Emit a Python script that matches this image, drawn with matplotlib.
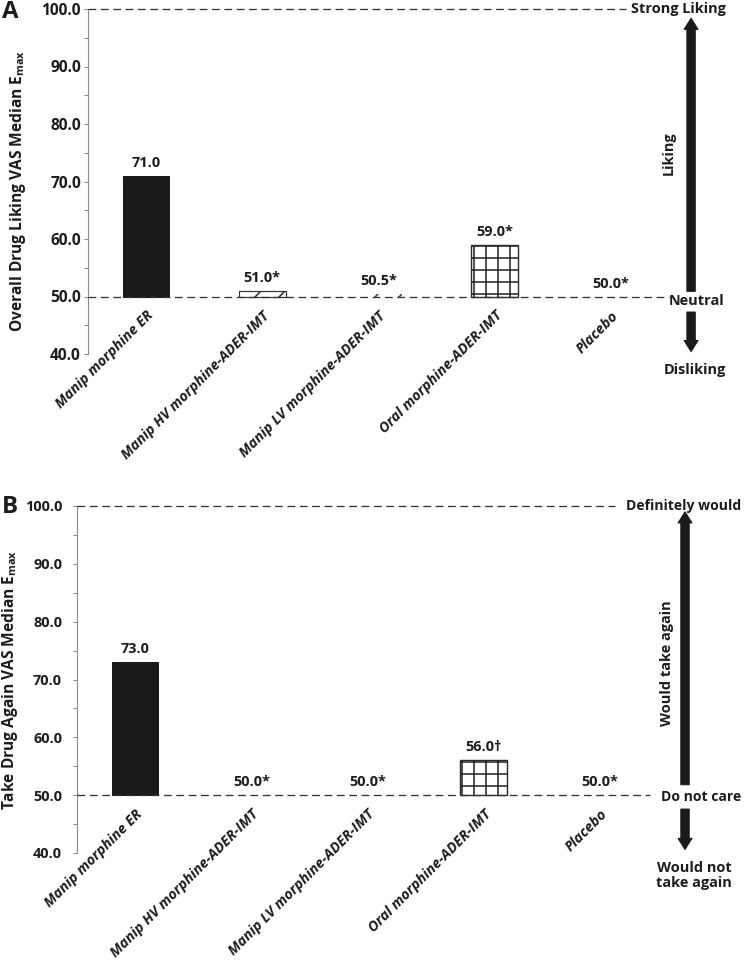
import matplotlib
matplotlib.use("Agg")
import matplotlib.pyplot as plt
from matplotlib.transforms import blended_transform_factory as btf

# ---------------- data ----------------
categories = ["Manip morphine ER", "Manip HV morphine-ADER-IMT",
              "Manip LV morphine-ADER-IMT", "Oral morphine-ADER-IMT", "Placebo"]
liking_values = [71.0, 51.0, 50.5, 59.0, 50.0]
liking_labels = ["71.0", "51.0*", "50.5*", "59.0*", "50.0*"]
take_values = [73.0, 50.0, 50.0, 56.0, 50.0]
take_labels = ["73.0", "50.0*", "50.0*", "56.0\u2020", "50.0*"]
baseline = 50.0
yticks_major = [40, 50, 60, 70, 80, 90, 100]
yticks_minor = [45, 55, 65, 75, 85, 95]

plt.rcParams["hatch.linewidth"] = 1.6
plt.rcParams["mathtext.fontset"] = "custom"

TXT = ["Open Sans", "DejaVu Sans"]
DARK = "#1c1c1c"

W, H = 744, 963
fig = plt.figure(figsize=(W / 72, H / 72), dpi=72)

# per-category styles
styles = [
    dict(facecolor="#1a1a1a", edgecolor="#1a1a1a", hatch=None, lw=1.0),
    dict(facecolor="white", edgecolor="#333333", hatch="/", lw=1.2),
    dict(facecolor="white", edgecolor="#444444", hatch="/", lw=0.0),
    dict(facecolor="white", edgecolor="#2a2a2a", hatch="+", lw=1.4),
    dict(facecolor="white", edgecolor="#2a2a2a", hatch=None, lw=0.0),
]


def px_axes(left, top, right, bottom):
    return fig.add_axes([left / W, 1 - bottom / H, (right - left) / W, (bottom - top) / H])


def panel(ax, values, labels, ylabel, ylabel_xy, top_line_frac, mid_line_frac, ytick_pad, ytick_size):
    x = list(range(len(categories)))
    heights = [v - baseline for v in values]
    for xi, h, st in zip(x, heights, styles):
        lw = st["lw"] if h != 0 else 0.0
        ax.bar(xi, h, bottom=baseline, width=0.40, facecolor=st["facecolor"],
               edgecolor=st["edgecolor"], hatch=st["hatch"], linewidth=lw, zorder=3)
    for xi, v, lab in zip(x, values, labels):
        ax.annotate(lab, (xi, v), xytext=(0, 6), textcoords="offset points",
                    ha="center", va="bottom", fontsize=14.5, fontweight="bold",
                    family=TXT, color=DARK, zorder=5)
    ax.set_xlim(-0.5, 4.5)
    ax.set_ylim(40, 100)
    ax.axhline(100, xmin=0, xmax=top_line_frac, color="#333333", lw=1.3,
               linestyle=(0, (6, 3.5)), clip_on=False, zorder=4)
    ax.axhline(baseline, xmin=0, xmax=mid_line_frac, color="#333333", lw=1.3,
               linestyle=(0, (6, 3.5)), clip_on=False, zorder=4)
    for s in ["top", "right"]:
        ax.spines[s].set_visible(False)
    ax.spines["bottom"].set_position(("data", baseline))
    ax.spines["bottom"].set_color("none")
    ax.spines["left"].set_color("#8a8a8a")
    ax.spines["left"].set_linewidth(1.1)
    ax.set_yticks(yticks_major)
    ax.set_yticks(yticks_minor, minor=True)
    ax.set_yticklabels([f"{t:.1f}" for t in yticks_major])
    ax.tick_params(axis="y", which="both", direction="out", length=4, color="#8a8a8a",
                   width=1, pad=ytick_pad, labelsize=ytick_size, labelcolor=DARK)
    for t in ax.get_yticklabels():
        t.set_fontweight("bold")
        t.set_family(TXT)
    ax.set_xticks(x)
    ax.set_xticklabels(categories, rotation=45, ha="right", va="top",
                       rotation_mode="anchor")
    ax.tick_params(axis="x", length=0, pad=12, labelsize=14.2, labelcolor=DARK)
    for t in ax.get_xticklabels():
        t.set_fontweight("bold")
        t.set_fontstyle("italic")
        t.set_family(TXT)
    fig.text(ylabel_xy[0] / W, 1 - ylabel_xy[1] / H, ylabel, rotation=90,
             ha="center", va="center", fontsize=15.5, fontweight="bold",
             family=TXT, color=DARK)


def arrow(ax, x, y0, y1):
    tr = btf(ax.transAxes, ax.transData)
    ax.annotate("", xy=(x, y1), xytext=(x, y0), xycoords=tr, textcoords=tr,
                arrowprops=dict(arrowstyle="simple,head_width=1.0,head_length=0.8,tail_width=0.6",
                                mutation_scale=14, color="#1a1a1a", shrinkA=0, shrinkB=0),
                annotation_clip=False)


def side_text(ax, x, y, s, ha="center", size=14.5, **kw):
    tr = btf(ax.transAxes, ax.transData)
    ax.text(x, y, s, transform=tr, ha=ha, va="center", fontsize=size,
            fontweight="bold", family=TXT, color=DARK, clip_on=False, **kw)


# ---------------- Panel A ----------------
axA = px_axes(88, 9, 669, 354)
panel(axA, liking_values, liking_labels,
      r"Overall Drug Liking VAS Median E$_{\mathregular{max}}$", (18, 191),
      0.926, 1.0, 3, 15.5)
arrow(axA, 1.038, 50.9, 98.4)
arrow(axA, 1.038, 47.3, 40.4)
side_text(axA, 1.0155, 100, "Strong Liking")
side_text(axA, 1.048, 49.3, "Neutral")
side_text(axA, 1.045, 37.3, "Disliking")
side_text(axA, 1.0, 75, "Liking", rotation=90)
fig.text(2 / W, 1 - 12 / H, "A", ha="left", va="center", fontsize=24,
         fontweight="bold", family=TXT, color=DARK)

# ---------------- Panel B ----------------
axB = px_axes(77, 506, 658, 853)
panel(axB, take_values, take_labels,
      r"Take Drug Again VAS Median E$_{\mathregular{max}}$", (10, 680),
      0.926, 0.986, 11, 14.5)
arrow(axB, 1.0465, 51.8, 99.0)
arrow(axB, 1.0465, 47.6, 40.6)
side_text(axB, (741 - 77) / 581, 100, "Definitely would", ha="right", size=14)
side_text(axB, (741 - 77) / 581, 49.7, "Do not care", ha="right", size=14)
side_text(axB, 1.062, 36.1, "Would not\ntake again", linespacing=1.15)
side_text(axB, 1.0155, 72.9, "Would take again", rotation=90)
fig.text(2 / W, 1 - 507 / H, "B", ha="left", va="center", fontsize=24,
         fontweight="bold", family=TXT, color=DARK)

fig.savefig("out.png", dpi=72, facecolor="white")
